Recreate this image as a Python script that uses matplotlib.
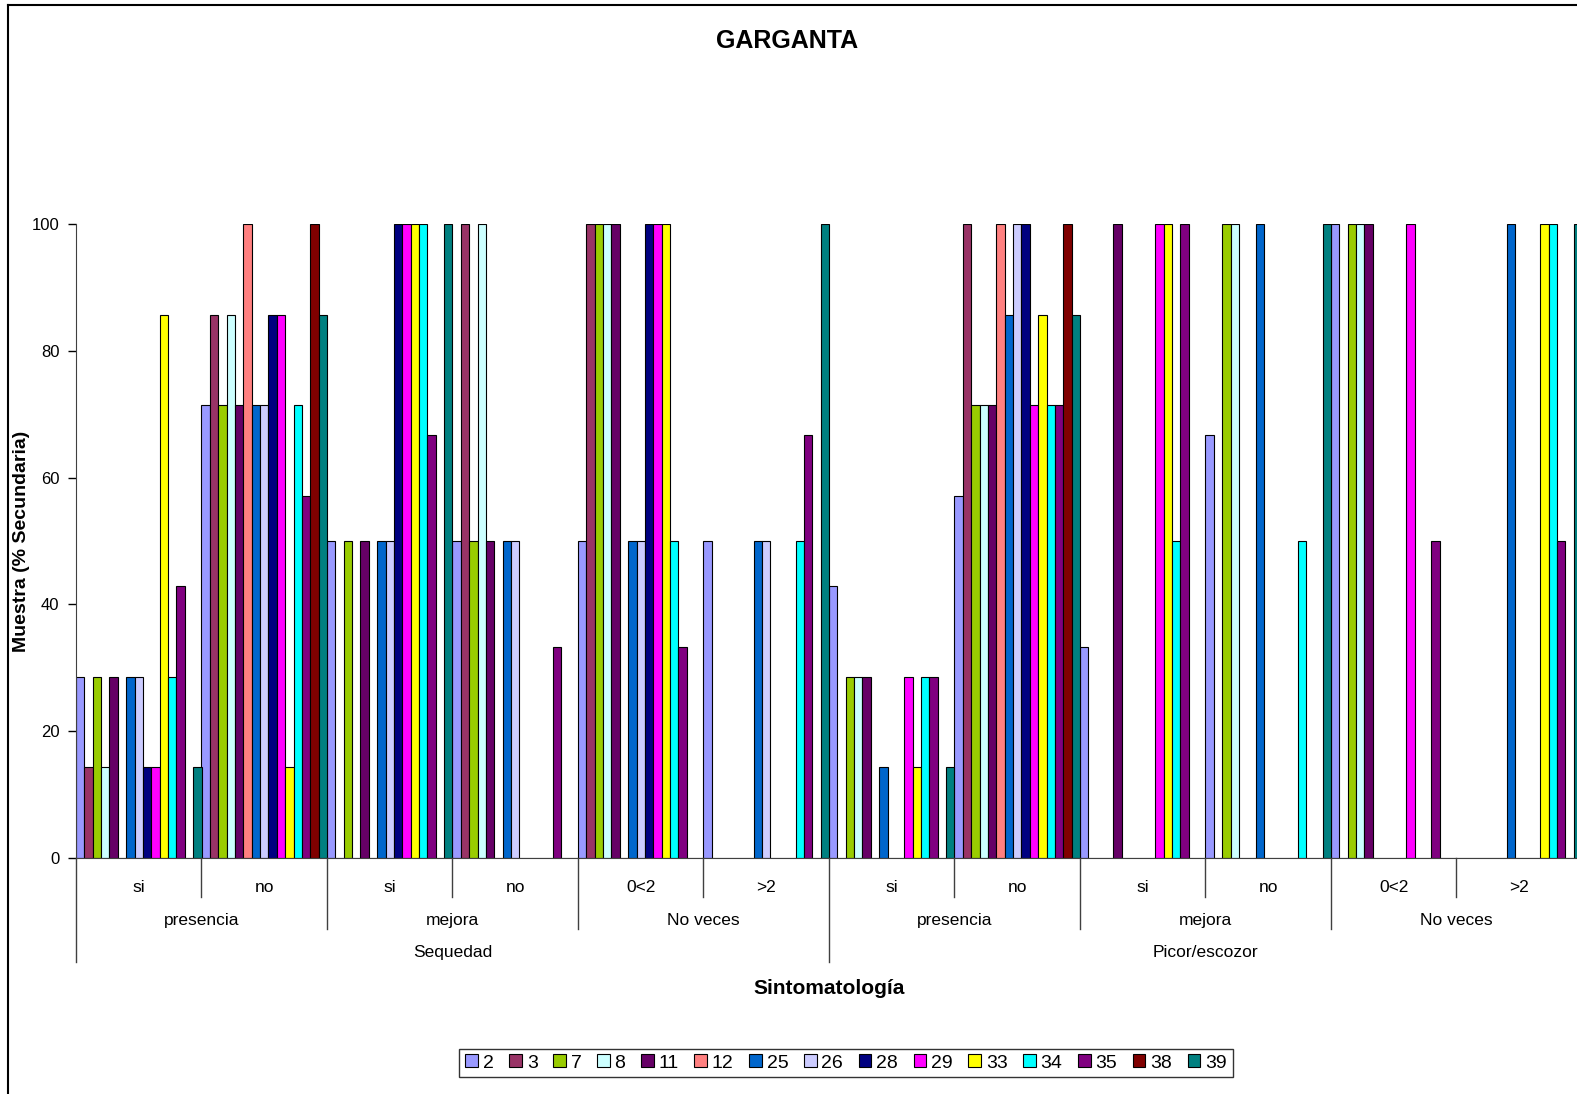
import matplotlib
matplotlib.use('Agg')
import matplotlib.pyplot as plt
from matplotlib.patches import Patch
from matplotlib.lines import Line2D
import numpy as np

plt.rcParams['font.family'] = ['Liberation Sans', 'DejaVu Sans']

# categorias (3 niveles)
nivel1 = ['si', 'no', 'si', 'no', '0<2', '>2', 'si', 'no', 'si', 'no', '0<2', '>2']
nivel2 = ['presencia', 'mejora', 'No veces', 'presencia', 'mejora', 'No veces']
nivel3 = ['Sequedad', 'Picor/escozor']

series = ['2', '3', '7', '8', '11', '12', '25', '26', '28', '29', '33', '34', '35', '38', '39']
colores = ['#9999FF', '#993366', '#99CC00', '#CCFFFF', '#660066', '#FF8080', '#0066CC',
           '#CCCCFF', '#000080', '#FF00FF', '#FFFF00', '#00FFFF', '#800080', '#800000', '#008080']

# valores por serie (12 categorias cada una)
s2  = [28.6, 71.4, 50, 50, 50, 50, 42.9, 57.1, 33.3, 66.7, 100, 0]
s3  = [14.3, 85.7, 0, 100, 100, 0, 0, 100, 0, 0, 0, 0]
s7  = [28.6, 71.4, 50, 50, 100, 0, 28.6, 71.4, 0, 100, 100, 0]
s8  = [14.3, 85.7, 0, 100, 100, 0, 28.6, 71.4, 0, 100, 100, 0]
s11 = [28.6, 71.4, 50, 50, 100, 0, 28.6, 71.4, 100, 0, 100, 0]
s12 = [0, 100, 0, 0, 0, 0, 0, 100, 0, 0, 0, 0]
s25 = [28.6, 71.4, 50, 50, 50, 50, 14.3, 85.7, 0, 100, 0, 100]
s26 = [28.6, 71.4, 50, 50, 50, 50, 0, 100, 0, 0, 0, 0]
s28 = [14.3, 85.7, 100, 0, 100, 0, 0, 100, 0, 0, 0, 0]
s29 = [14.3, 85.7, 100, 0, 100, 0, 28.6, 71.4, 100, 0, 100, 0]
s33 = [85.7, 14.3, 100, 0, 100, 0, 14.3, 85.7, 100, 0, 0, 100]
s34 = [28.6, 71.4, 100, 0, 50, 50, 28.6, 71.4, 50, 50, 0, 100]
s35 = [42.9, 57.1, 66.7, 33.3, 33.3, 66.7, 28.6, 71.4, 100, 0, 50, 50]
s38 = [0, 100, 0, 0, 0, 0, 0, 100, 0, 0, 0, 0]
s39 = [14.3, 85.7, 100, 0, 0, 100, 14.3, 85.7, 0, 100, 0, 100]

valores = [s2, s3, s7, s8, s11, s12, s25, s26, s28, s29, s33, s34, s35, s38, s39]

fig = plt.figure(figsize=(15.77, 10.94), dpi=100)
# el area del grafico se sale por la derecha como en el original
ax = fig.add_axes([76 / 1577, 236 / 1094, 1506 / 1577, 634 / 1094])

n = len(series)
ancho = 1.0 / n
x = np.arange(len(nivel1))
for i in range(n):
    ax.bar(x + (i + 0.5) * ancho, valores[i], width=ancho, color=colores[i],
           edgecolor='black', linewidth=0.8, label=series[i])

ax.set_xlim(0, len(nivel1))
ax.set_ylim(0, 100)
ax.set_yticks([0, 20, 40, 60, 80, 100])
ax.tick_params(axis='y', direction='out', length=6, width=1, pad=6, labelsize=12)
ax.set_xticks([])
for s in ['top', 'right']:
    ax.spines[s].set_visible(False)
ax.spines['left'].set_color('#404040')
ax.spines['bottom'].set_color('#404040')

# etiquetas de categorias multinivel
tr = ax.get_xaxis_transform()
for k, t in enumerate(nivel1):
    ax.text(k + 0.5, -0.046, t, transform=tr, ha='center', va='center', fontsize=12.5)
for k, t in enumerate(nivel2):
    ax.text(k * 2 + 1, -0.098, t, transform=tr, ha='center', va='center', fontsize=12.5)
for k, t in enumerate(nivel3):
    ax.text(k * 6 + 3, -0.149, t, transform=tr, ha='center', va='center', fontsize=12.5)

# lineas separadoras
for b in range(len(nivel1) + 1):
    if b % 6 == 0:
        y1 = -0.164
    elif b % 2 == 0:
        y1 = -0.112
    else:
        y1 = -0.0615
    ax.plot([b, b], [0, y1], transform=tr, color='#404040', lw=1, clip_on=False)

fig.text(0.499, 1 - 41 / 1094, 'GARGANTA', ha='center', va='center',
         fontsize=18, fontweight='bold')
fig.text(829 / 1577, 1 - 989 / 1094, 'Sintomatología', ha='center', va='center',
         fontsize=15, fontweight='bold')
fig.text(22 / 1577, 1 - 541 / 1094, 'Muestra (% Secundaria)', ha='center', va='center',
         rotation=90, fontsize=14, fontweight='bold')

# leyenda
handles = [Patch(facecolor=colores[i], edgecolor='black', linewidth=0.8) for i in range(n)]
leg = fig.legend(handles, series, loc='center', bbox_to_anchor=(846 / 1577, 1 - 1063 / 1094),
                 ncol=n, fontsize=14, frameon=True, fancybox=False, handlelength=0.65,
                 handleheight=0.65, handletextpad=0.25, columnspacing=0.8,
                 borderpad=0.3, borderaxespad=0)
leg.get_frame().set_edgecolor('black')
leg.get_frame().set_linewidth(1)

# borde del grafico
fig.add_artist(Line2D([7.5 / 1577, 7.5 / 1577], [0, 1 - 4.5 / 1094], color='black', lw=1.5))
fig.add_artist(Line2D([7.5 / 1577, 1], [1 - 4.5 / 1094, 1 - 4.5 / 1094], color='black', lw=1.5))

plt.savefig('out.png', dpi=100)
